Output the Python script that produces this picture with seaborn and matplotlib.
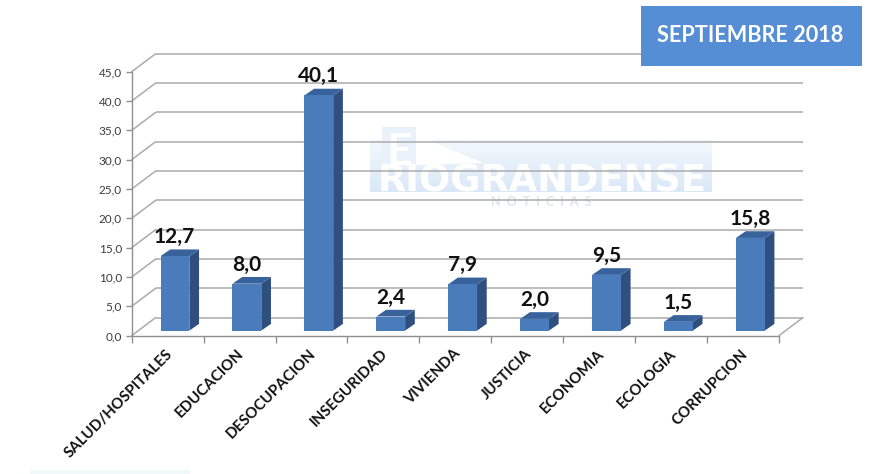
import numpy as np
import pandas as pd
import matplotlib
matplotlib.use("Agg")
import matplotlib.pyplot as plt
from matplotlib.colors import LinearSegmentedColormap
from matplotlib.patches import Polygon, Rectangle
from matplotlib.transforms import Affine2D, IdentityTransform, ScaledTranslation
import seaborn as sns

# ========== Data ==========

categories = ['SALUD/HOSPITALES', 'EDUCACION', 'DESOCUPACION', 'INSEGURIDAD', 'VIVIENDA',
              'JUSTICIA', 'ECONOMIA', 'ECOLOGIA', 'CORRUPCION']
values = [12.7, 8.0, 40.1, 2.4, 7.9, 2.0, 9.5, 1.5, 15.8]
y_ticks = [0, 5, 10, 15, 20, 25, 30, 35, 40, 45]
title_text = 'SEPTIEMBRE 2018'

# ========== Style ==========

W, H = 871, 474
FRONT = '#4a7cbc'
TOP = '#38629b'
SIDE = '#2f507e'
GRID = '#ababab'

sns.set_theme(style='white')
plt.rcParams['font.family'] = ['Lato', 'DejaVu Sans']


def comma(v):
    return f'{v:.1f}'.replace('.', ',')


def pixel_axes(fig, zorder):
    """Full figure axes in image pixels, for the decorations."""
    a = fig.add_axes([0, 0, 1, 1], zorder=zorder)
    a.set_xlim(0, W)
    a.set_ylim(H, 0)
    a.axis('off')
    a.patch.set_alpha(0)
    return a


fig = plt.figure(figsize=(W / 100, H / 100), dpi=100, facecolor='white')

# ========== Watermark (behind the chart) ==========

back = pixel_axes(fig, 0)
pale = LinearSegmentedColormap.from_list('pale', ['#f3f8fd', '#d9e8f8'])
gradient = np.linspace(0, 1, 50).reshape(-1, 1)
back.imshow(gradient, extent=(370, 711, 192, 140), aspect='auto', cmap=pale)
back.set_xlim(0, W)
back.set_ylim(H, 0)
back.add_patch(Rectangle((382, 127), 34, 40, color='#e9f2fb', lw=0))
back.text(386, 165, 'E', color='white', fontsize=32, fontweight='bold', va='baseline')
back.add_patch(Polygon([(416, 129), (428, 140), (483, 163), (416, 165)], color='white', lw=0))
back.text(542, 192, 'RIOGRANDENSE', color='white', fontsize=26.5, fontweight='bold',
          family='DejaVu Sans', ha='center', va='baseline')
back.text(541, 206, 'N  O  T  I  C  I  A  S', color='#dbe6f0', fontsize=9, fontweight='bold',
          ha='center', va='baseline')

# faint scan mark along the bottom edge
back.add_patch(Rectangle((30, 470), 160, 4, color='#f0f9f7', lw=0))

# ========== Chart ==========

ax = fig.add_axes([131.7 / W, (H - 335.6) / H, (779 - 131.7) / W, (335.6 - 71.7) / H], zorder=1)
ax.patch.set_alpha(0)

df = pd.DataFrame({'category': categories, 'value': values})
sns.barplot(data=df, x='category', y='value', color=FRONT, saturation=1, width=0.4, ax=ax, zorder=4)

ax.set_xlim(-0.5, len(categories) - 0.5)
ax.set_ylim(0, 45)
ax.set_xlabel('')
ax.set_ylabel('')

# Back wall and floor, offset from the front plane in pixels
wall = Affine2D().translate(24, 18)
ax.hlines(y_ticks, -0.5, len(categories) - 0.5, color=GRID, lw=1.1,
          transform=ax.transData + wall, clip_on=False, zorder=1)
for t in y_ticks:
    x0, y0 = ax.transData.transform((-0.5, t))
    ax.plot([x0, x0 + 24], [y0, y0 + 18], color=GRID, lw=1.1,
            transform=IdentityTransform(), clip_on=False, zorder=1)
xr, yr = ax.transData.transform((len(categories) - 0.5, 0))
ax.plot([xr, xr + 24], [yr, yr + 18], color=GRID, lw=1.1,
        transform=IdentityTransform(), clip_on=False, zorder=1)

# Bars sit partway into the floor; add the top and side faces
bar_shift = Affine2D().translate(7.3, 5)
dx, dy = 9.7, 6.7
for patch, value in zip(ax.patches, values):
    patch.set_transform(ax.transData + bar_shift)
    patch.set_clip_on(False)
    patch.set_linewidth(0)
    left, right = patch.get_x(), patch.get_x() + patch.get_width()
    (x0, y0), (x1, y1) = (ax.transData + bar_shift).transform([(left, 0), (right, value)])
    ax.add_patch(Polygon([(x1, y0), (x1 + dx, y0 + dy), (x1 + dx, y1 + dy), (x1, y1)], facecolor=SIDE, lw=0,
                         transform=IdentityTransform(), clip_on=False, zorder=3))
    ax.add_patch(Polygon([(x0, y1), (x1, y1), (x1 + dx, y1 + dy), (x0 + dx, y1 + dy)], facecolor=TOP, lw=0,
                         transform=IdentityTransform(), clip_on=False, zorder=3))
    ax.annotate(comma(value), xy=((left + right) / 2, value), xytext=(7, 14), textcoords='offset pixels',
                ha='center', va='bottom', fontsize=15, fontweight='bold', color='#111111',
                annotation_clip=False, zorder=6)

# Axes
sns.despine(ax=ax, top=True, right=True)
for side in ['left', 'bottom']:
    ax.spines[side].set_color('#8f8f8f')
    ax.spines[side].set_linewidth(1.0)
ax.set_yticks(y_ticks, [comma(t) for t in y_ticks])
ax.tick_params(axis='y', left=True, length=4, width=1, color='#8f8f8f', pad=3, labelsize=8.5, labelcolor='#3c3c3c')
ax.set_xticks(range(len(categories)), categories, rotation=45, ha='right', rotation_mode='anchor')
ax.set_xticks(np.arange(-0.5, len(categories)), minor=True)
ax.tick_params(axis='x', which='major', length=0, pad=8, labelsize=10.8, labelcolor='#111111')
ax.tick_params(axis='x', which='minor', bottom=True, length=5, width=1, color='#8f8f8f')
for label in ax.get_xticklabels():
    label.set_fontweight('bold')
    label.set_transform(label.get_transform() + ScaledTranslation(-2.5 / 100, 0, fig.dpi_scale_trans))

# ========== Title box ==========

front = pixel_axes(fig, 2)
front.add_patch(Rectangle((641, 6), 221, 60, facecolor='#558ed5', edgecolor='none'))
front.text(750, 35, title_text, color='white', fontsize=15.6, fontweight='bold', ha='center', va='center')

fig.savefig('out.png', dpi=100)
